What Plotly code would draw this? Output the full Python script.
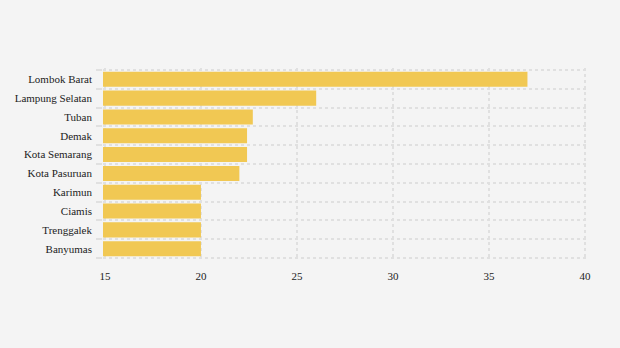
import plotly.graph_objects as go

categories = ["Lombok Barat", "Lampung Selatan", "Tuban", "Demak", "Kota Semarang",
              "Kota Pasuruan", "Karimun", "Ciamis", "Trenggalek", "Banyumas"]
values = [37, 26, 22.7, 22.4, 22.4, 22, 20, 20, 20, 20]
x_ticks = [15, 20, 25, 30, 35, 40]

fig = go.Figure(go.Bar(
    x=values, y=categories, orientation="h",
    marker=dict(color="#F1C853", line=dict(width=0)),
))

font = dict(family='"Liberation Serif", "Times New Roman", Times, serif', size=11, color="#222222")
grid = dict(showgrid=True, gridcolor="#E0E0E0", griddash="3px,3px", gridwidth=2,
            zeroline=False, showline=False)

fig.update_layout(
    width=620, height=348,
    margin=dict(l=103, r=33, t=68, b=88),
    paper_bgcolor="#F4F4F4", plot_bgcolor="#F4F4F4",
    bargap=0.2, showlegend=False, font=font,
)
fig.update_xaxes(
    range=[14.9, 40.1], tickvals=x_ticks, ticktext=[str(v) for v in x_ticks],
    ticks="", ticklabelstandoff=8, **grid,
)
fig.update_yaxes(
    type="category", categoryorder="array", categoryarray=categories[::-1],
    range=[-0.6, 9.6], tickson="boundaries",
    ticks="outside", ticklen=6, tickcolor="#E0E0E0", tickwidth=2,
    ticklabelstandoff=10, **grid,
)

fig.write_html("out.html")
